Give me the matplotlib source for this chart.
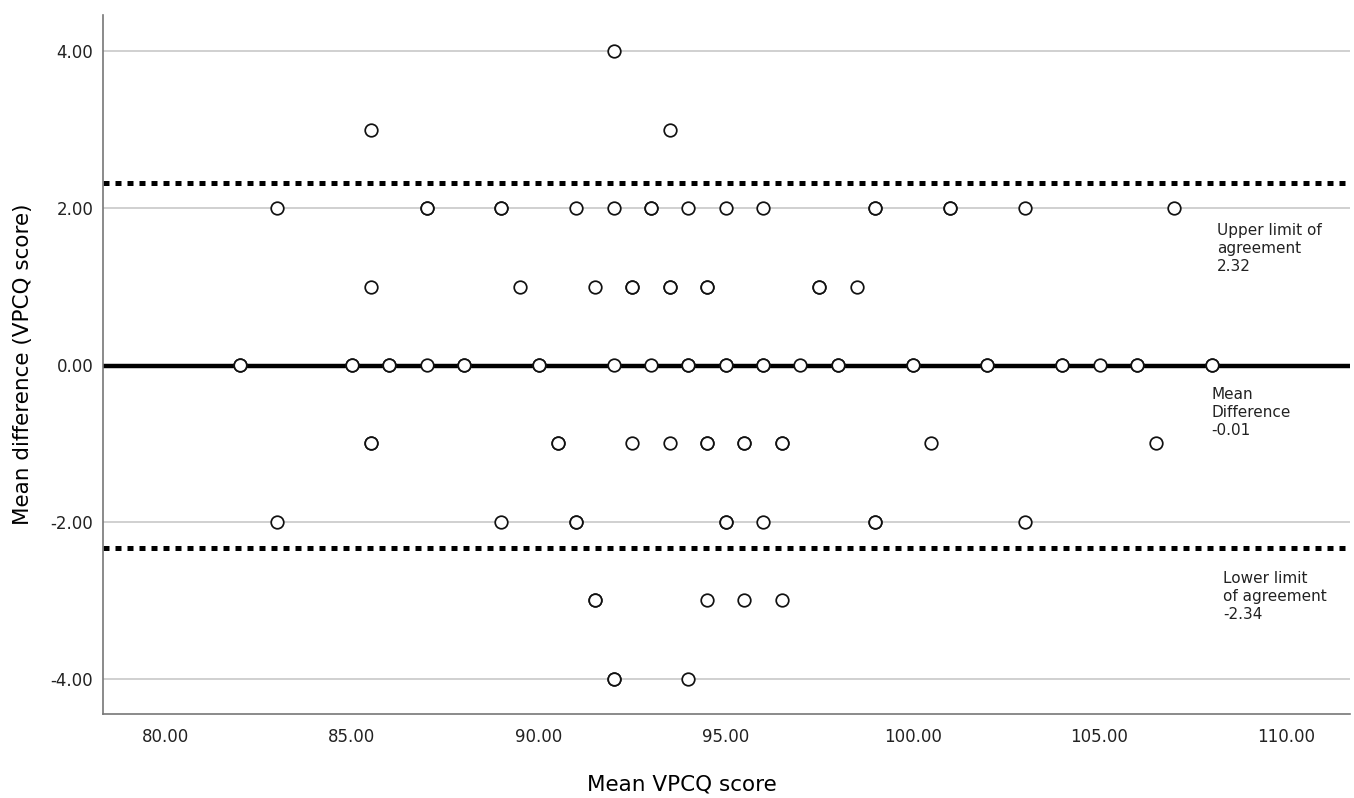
import matplotlib
matplotlib.use("Agg")
import matplotlib.pyplot as plt

plt.rcParams["font.family"] = ["DejaVu Sans"]

# Bland-Altman data: mean score vs difference (repeated values = overlapping points)
mean_score = [
    92.0,
    85.5, 93.5,
    83, 87, 87, 89, 89, 91, 92, 93, 93, 94, 95, 96, 99, 99, 101, 101, 103, 107,
    85.5, 89.5, 91.5, 92.5, 92.5, 93.5, 93.5, 94.5, 94.5, 97.5, 97.5, 98.5,
    82, 82, 85, 85, 86, 86, 87, 88, 88, 90, 90, 92, 93, 94, 94, 95, 95, 96, 96,
    97, 98, 98, 100, 100, 102, 102, 104, 104, 105, 106, 106, 108, 108,
    85.5, 85.5, 90.5, 90.5, 92.5, 93.5, 94.5, 94.5, 95.5, 95.5, 96.5, 96.5, 100.5, 106.5,
    83, 89, 91, 91, 95, 95, 96, 99, 99, 103,
    91.5, 91.5, 94.5, 95.5, 96.5,
    92, 92, 94,
]
difference = (
    [4] * 1
    + [3] * 2
    + [2] * 18
    + [1] * 12
    + [0] * 33
    + [-1] * 14
    + [-2] * 10
    + [-3] * 5
    + [-4] * 3
)

mean_diff = -0.01
upper_loa = 2.32
lower_loa = -2.34

x_ticks = [80, 85, 90, 95, 100, 105, 110]
y_ticks = [-4, -2, 0, 2, 4]

fig = plt.figure(figsize=(13.54, 7.98), dpi=100)
ax = fig.add_axes([0.0761, 0.1053, 0.9209, 0.8757])

ax.set_xlim(78.34, 111.7)
ax.set_ylim(-4.45, 4.46)

for yt in y_ticks:
    ax.axhline(yt, color="#c8c8c8", linewidth=1.2, zorder=1)

ax.axhline(mean_diff, color="black", linewidth=3.2, zorder=2)
ax.axhline(upper_loa, color="black", linewidth=3.6, linestyle=(0, (1.2, 1.2)), zorder=2)
ax.axhline(lower_loa, color="black", linewidth=3.6, linestyle=(0, (1.2, 1.2)), zorder=2)

ax.scatter(mean_score, difference, s=82, facecolors="white", edgecolors="#111111",
           linewidths=1.25, zorder=3)

ax.set_xticks(x_ticks)
ax.set_xticklabels([f"{v:.2f}" for v in x_ticks])
ax.set_yticks(y_ticks)
ax.set_yticklabels([f"{v:.2f}" for v in y_ticks])
ax.tick_params(axis="both", length=0, labelsize=12, colors="#222222")
ax.tick_params(axis="x", pad=10)
ax.tick_params(axis="y", pad=7)

for side in ("top", "right"):
    ax.spines[side].set_visible(False)
for side in ("left", "bottom"):
    ax.spines[side].set_color("#777777")
    ax.spines[side].set_linewidth(1.2)

ax.set_xlabel("Mean VPCQ score", fontsize=15.5)
ax.xaxis.set_label_coords(0.464, -0.086)
ax.set_ylabel("Mean difference (VPCQ score)", fontsize=15.5)
ax.yaxis.set_label_coords(-0.056, 0.5)

note_kw = dict(fontsize=11, color="#222222", va="top", ha="left", linespacing=1.25)
ax.text(108.15, 1.81, "Upper limit of\nagreement\n2.32", **note_kw)
ax.text(107.99, -0.28, "Mean\nDifference\n-0.01", **note_kw)
ax.text(108.31, -2.63, "Lower limit\nof agreement\n-2.34", **note_kw)

fig.savefig("out.png", dpi=100)
